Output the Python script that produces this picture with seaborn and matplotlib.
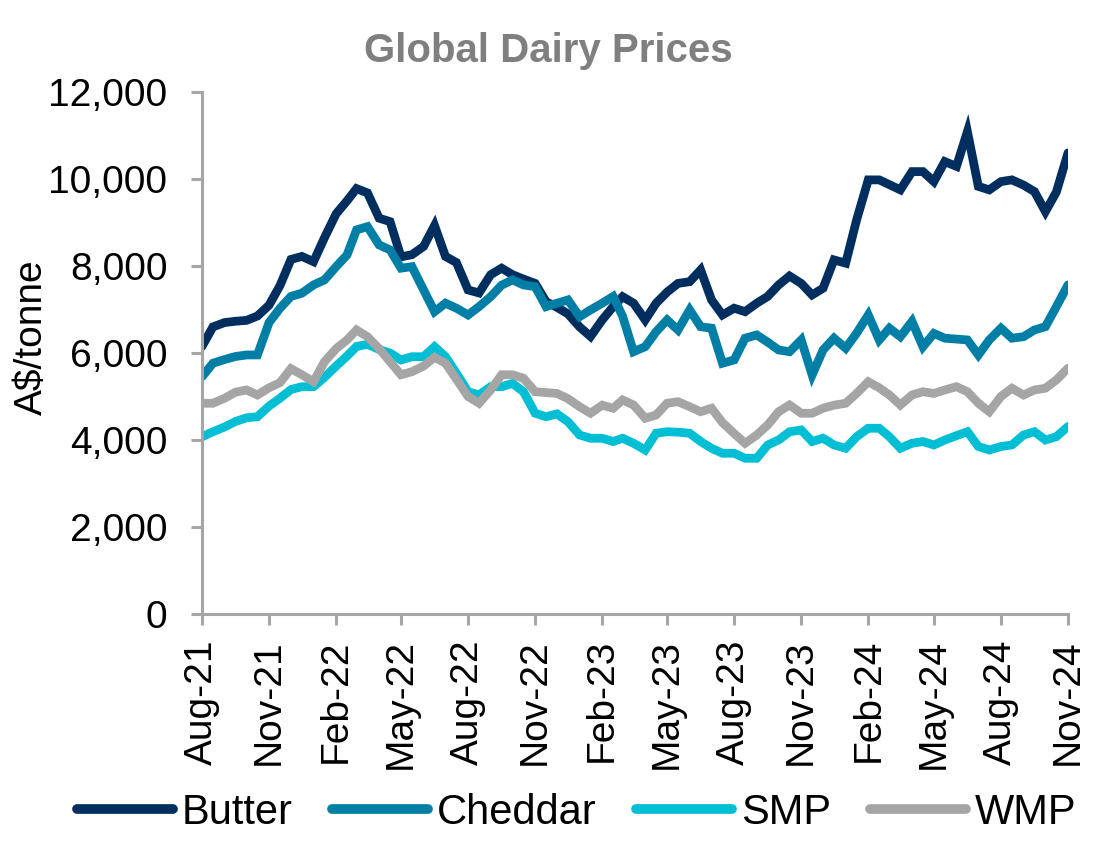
import datetime as dt
import numpy as np
import pandas as pd
import matplotlib
matplotlib.use("Agg")
import matplotlib.pyplot as plt
import matplotlib.dates as mdates
from matplotlib.ticker import FuncFormatter, MultipleLocator
from matplotlib.lines import Line2D
import seaborn as sns

# ---- data (A$/tonne, fortnightly from Aug-21 to Nov-24) ----
butter = [6150, 6600, 6700, 6730, 6750, 6850, 7100, 7550, 8150, 8220,
          8100, 8650, 9200, 9500, 9780, 9680, 9100, 9020, 8210, 8260,
          8450, 8930, 8220, 8080, 7450, 7380, 7800, 7950, 7800, 7700,
          7600, 7180, 7050, 6900, 6600, 6380, 6760, 7065, 7295, 7145,
          6760, 7145, 7400, 7600, 7640, 7910, 7220, 6875, 7030, 6950,
          7145, 7300, 7565, 7770, 7600, 7335, 7490, 8140, 8065, 9060,
          9980, 9980, 9870, 9750, 10170, 10170, 9940, 10400, 10290, 11090,
          9830, 9750, 9940, 9980, 9860, 9710, 9250, 9700, 10600]
cheddar = [5455, 5765, 5850, 5920, 5955, 5955, 6700, 7030, 7300, 7375,
           7565, 7680, 7985, 8255, 8830, 8905, 8485, 8370, 7950, 7985,
           7450, 6950, 7145, 7030, 6875, 7065, 7295, 7560, 7680, 7565,
           7525, 7065, 7145, 7220, 6835, 6990, 7145, 7300, 6845, 6030,
           6145, 6490, 6760, 6530, 6990, 6605, 6570, 5765, 5840, 6340,
           6415, 6250, 6070, 6030, 6300, 5495, 6070, 6340, 6110, 6455,
           6875, 6300, 6570, 6375, 6725, 6145, 6450, 6340, 6320, 6300,
           5955, 6300, 6570, 6340, 6375, 6530, 6605, 7065, 7565]
smp = [4075, 4190, 4300, 4425, 4510, 4535, 4780, 4960, 5160, 5225,
       5225, 5440, 5700, 5930, 6150, 6200, 6080, 6000, 5840, 5915,
       5915, 6145, 5915, 5535, 5110, 5035, 5225, 5225, 5300, 5110,
       4615, 4535, 4600, 4420, 4115, 4040, 4040, 3965, 4040, 3925,
       3770, 4155, 4190, 4180, 4155, 3965, 3810, 3695, 3695, 3580,
       3580, 3885, 4000, 4190, 4230, 3965, 4040, 3885, 3810, 4075,
       4270, 4270, 4075, 3810, 3925, 3965, 3885, 4000, 4100, 4190,
       3850, 3770, 3850, 3885, 4115, 4190, 4000, 4075, 4310]
wmp = [4845, 4845, 4960, 5100, 5150, 5035, 5200, 5320, 5640, 5500,
       5340, 5800, 6100, 6300, 6530, 6375, 6100, 5800, 5500, 5570,
       5700, 5900, 5765, 5400, 5000, 4845, 5150, 5500, 5500, 5420,
       5110, 5090, 5070, 4950, 4765, 4615, 4800, 4730, 4920, 4805,
       4500, 4575, 4845, 4880, 4765, 4650, 4730, 4400, 4150, 3925,
       4115, 4345, 4650, 4805, 4615, 4615, 4730, 4800, 4845, 5070,
       5340, 5200, 5035, 4805, 5035, 5110, 5070, 5150, 5225, 5110,
       4845, 4650, 5000, 5190, 5035, 5150, 5190, 5380, 5650]
series_names = ["Butter", "Cheddar", "SMP", "WMP"]
colors = ["#002F5F", "#007FA6", "#00BED4", "#A5A5A5"]

# fortnightly auction dates (1st and 16th of each month)
dates = []
y, m = 2021, 8
while (y, m) <= (2024, 11):
    dates.append(dt.datetime(y, m, 1))
    if (y, m) != (2024, 11):
        dates.append(dt.datetime(y, m, 16))
    m += 1
    if m > 12:
        m = 1
        y += 1

frames = []
for name, vals in zip(series_names, [butter, cheddar, smp, wmp]):
    frames.append(pd.DataFrame({"date": dates, "value": vals, "product": name}))
df = pd.concat(frames, ignore_index=True)

# ---- style ----
sns.set_theme(style="white")
plt.rcParams["font.family"] = ["Liberation Sans", "DejaVu Sans"]

fig = plt.figure(figsize=(11.03, 8.46), dpi=100)
ax = fig.add_axes([202 / 1103, 1 - 614 / 846, (1068 - 202) / 1103, (614 - 92) / 846])

sns.lineplot(data=df, x="date", y="value", hue="product", hue_order=series_names,
             palette=colors, linewidth=6.3, ax=ax, legend=False,
             solid_joinstyle="miter")

ax.set_xlim(dt.datetime(2021, 8, 1), dt.datetime(2024, 11, 1))
ax.set_ylim(0, 12000)
ax.yaxis.set_major_locator(MultipleLocator(2000))
ax.yaxis.set_major_formatter(FuncFormatter(lambda v, p: f"{int(v):,}"))
ax.xaxis.set_major_locator(mdates.MonthLocator(bymonth=[2, 5, 8, 11]))
ax.xaxis.set_major_formatter(mdates.DateFormatter("%b-%y"))

grey = "#A6A6A6"
for s in ["top", "right"]:
    ax.spines[s].set_visible(False)
for s in ["left", "bottom"]:
    ax.spines[s].set_color(grey)
    ax.spines[s].set_linewidth(2.2)

ax.tick_params(axis="both", which="major", direction="out", length=8,
               width=2.2, color=grey, labelsize=28, labelcolor="black")
ax.tick_params(axis="x", labelrotation=90, bottom=True, pad=10)
ax.tick_params(axis="y", left=True, pad=17)

ax.set_xlabel("")
ax.set_ylabel("A$/tonne", fontsize=28, color="black")
ax.yaxis.set_label_coords(-0.176, 0.53)

fig.text(0.497, 0.94, "Global Dairy Prices", ha="center", va="center",
         fontsize=29, fontweight="bold", color="#7F7F7F")

handles = [Line2D([0], [0], color=c, linewidth=7, solid_capstyle="round") for c in colors]
leg = fig.legend(handles, series_names, loc="center", bbox_to_anchor=(0.523, 0.039),
                 ncol=4, frameon=False, fontsize=30, handlelength=2.3,
                 handletextpad=0.22, columnspacing=0.94, borderaxespad=0)
for t in leg.get_texts():
    t.set_color("black")

fig.savefig("out.png", dpi=100)
